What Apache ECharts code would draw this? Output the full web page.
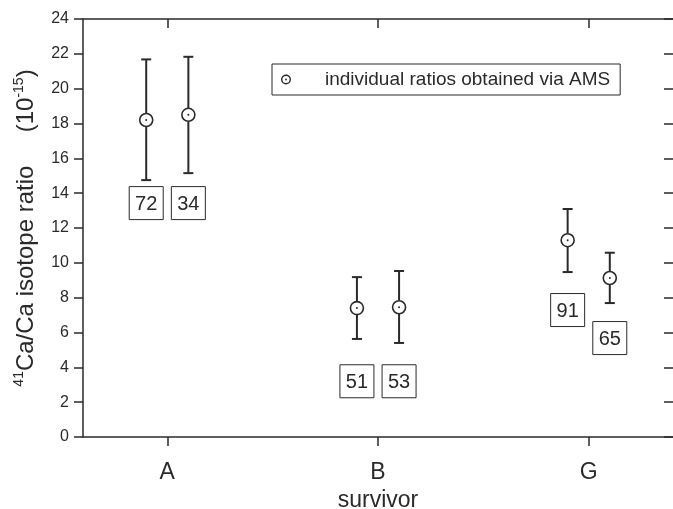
<!DOCTYPE html>
<html>
<head>
<meta charset="utf-8">
<script src="https://cdn.jsdelivr.net/npm/echarts@6/dist/echarts.min.js"></script>
<style>
html,body{margin:0;padding:0;background:#fff;}
#chart{width:673px;height:509px;}
</style>
</head>
<body>
<div id="chart"></div>
<script>
// ---- data ----
const categories = ['A', 'B', 'G'];
const sampleIds = ['72', '34', '51', '53', '91', '65'];
const sampleGroup = [1, 1, 2, 2, 3, 3];
const ratios = [18.2, 18.5, 7.4, 7.45, 11.3, 9.13];
const errLow = [14.75, 15.15, 5.63, 5.40, 9.47, 7.69];
const errHigh = [21.68, 21.83, 9.18, 9.53, 13.09, 10.58];
const labelY = [13.43, 13.43, 3.2, 3.2, 7.29, 5.68];
const yTicks = [0, 2, 4, 6, 8, 10, 12, 14, 16, 18, 20, 22, 24];
const legendName = 'individual ratios obtained via AMS';

const FONT = '"Liberation Sans", Arial, Helvetica, sans-serif';
const INK = '#2a2a2a';
const SIDE = 0.1; // horizontal offset of the two samples within a group

const xPos = sampleGroup.map((g, i) => g + (i % 2 === 0 ? -SIDE : SIDE));
const pointData = xPos.map((x, i) => [x, ratios[i], errLow[i], errHigh[i]]);
const labelData = xPos.map((x, i) => [x, labelY[i], sampleIds[i]]);

const chart = echarts.init(document.getElementById('chart'), null, {renderer: 'canvas'});

const tickVals = categories.map((c, i) => i + 1);

const option = {
  backgroundColor: '#fff',
  animation: false,
  grid: {left: 83, top: 19, width: 590, height: 418, containLabel: false, outerBoundsMode: 'none'},
  legend: {
    show: true,
    left: 272, top: 64,
    orient: 'horizontal',
    backgroundColor: '#fff',
    borderColor: INK, borderWidth: 1,
    padding: [6, 10, 6, 9],
    itemWidth: 10, itemHeight: 10,
    icon: 'path://M0,-6A6,6 0 1,1 0,6A6,6 0 1,1 0,-6Z M0,-4.3A4.3,4.3 0 1,0 0,4.3A4.3,4.3 0 1,0 0,-4.3Z M0,-1.1A1.1,1.1 0 1,1 0,1.1A1.1,1.1 0 1,1 0,-1.1Z',
    textStyle: {fontFamily: FONT, fontSize: 19, color: INK, padding: [0, 0, 0, 29]},
    data: [{name: legendName, itemStyle: {color: INK}}]
  },
  xAxis: [{
    type: 'value', min: 0.6, max: 3.4, position: 'bottom',
    name: 'survivor', nameLocation: 'middle', nameGap: 49,
    nameTextStyle: {fontFamily: FONT, fontSize: 23, color: INK},
    axisLine: {show: true, onZero: false, lineStyle: {color: INK, width: 1.5}},
    axisTick: {show: true, inside: false, length: 9, customValues: tickVals, lineStyle: {color: INK, width: 1.5}},
    axisLabel: {show: true, customValues: tickVals, margin: 24, fontFamily: FONT, fontSize: 23, color: INK,
      formatter: v => categories[Math.round(v) - 1] || ''},
    splitLine: {show: false}
  }, {
    type: 'value', min: 0.6, max: 3.4, position: 'top',
    axisLine: {show: true, onZero: false, lineStyle: {color: INK, width: 1.5}},
    axisTick: {show: true, inside: true, length: 9, customValues: tickVals, lineStyle: {color: INK, width: 1.5}},
    axisLabel: {show: false},
    splitLine: {show: false}
  }],
  yAxis: [{
    type: 'value', min: 0, max: 24, interval: 2, position: 'left',
    name: '{sup|41}{n|Ca/Ca isotope ratio}     {n|(10}{sup|-15}{n|)}',
    nameLocation: 'middle', nameGap: 45, nameRotate: 90,
    nameTextStyle: {
      fontFamily: FONT, fontSize: 24, color: INK,
      rich: {
        n: {fontFamily: FONT, fontSize: 24, color: INK, verticalAlign: 'bottom', lineHeight: 26},
        sup: {fontFamily: FONT, fontSize: 14, color: INK, verticalAlign: 'top', lineHeight: 26}
      }
    },
    axisLine: {show: true, onZero: false, lineStyle: {color: INK, width: 1.5}},
    axisTick: {show: true, inside: false, length: 9, lineStyle: {color: INK, width: 1.5}},
    axisLabel: {show: true, margin: 14, fontFamily: FONT, fontSize: 16, color: INK,
      customValues: yTicks},
    splitLine: {show: false}
  }, {
    type: 'value', min: 0, max: 24, interval: 2, position: 'right',
    axisLine: {show: false},
    axisTick: {show: true, inside: true, length: 9, lineStyle: {color: INK, width: 1.5}},
    axisLabel: {show: false},
    splitLine: {show: false}
  }],
  series: [{
    name: legendName,
    type: 'custom',
    xAxisIndex: 0, yAxisIndex: 0,
    itemStyle: {color: INK},
    data: pointData,
    renderItem: function (params, api) {
      const x = api.value(0), y = api.value(1), lo = api.value(2), hi = api.value(3);
      const pC = api.coord([x, y]);
      const pL = api.coord([x, lo]);
      const pH = api.coord([x, hi]);
      const cap = 5, r = 6.5;
      const st = {stroke: INK, lineWidth: 2};
      return {
        type: 'group',
        children: [
          {type: 'line', shape: {x1: pL[0], y1: pL[1], x2: pL[0], y2: pC[1] + r}, style: st},
          {type: 'line', shape: {x1: pH[0], y1: pC[1] - r, x2: pH[0], y2: pH[1]}, style: st},
          {type: 'line', shape: {x1: pL[0] - cap, y1: pL[1], x2: pL[0] + cap, y2: pL[1]}, style: st},
          {type: 'line', shape: {x1: pH[0] - cap, y1: pH[1], x2: pH[0] + cap, y2: pH[1]}, style: st},
          {type: 'circle', shape: {cx: pC[0], cy: pC[1], r: r}, style: {fill: '#fff', stroke: INK, lineWidth: 1.6}},
          {type: 'circle', shape: {cx: pC[0], cy: pC[1], r: 1}, style: {fill: INK}}
        ]
      };
    }
  }, {
    name: 'ids',
    type: 'custom',
    xAxisIndex: 0, yAxisIndex: 0,
    data: labelData,
    renderItem: function (params, api) {
      const p = api.coord([api.value(0), api.value(1)]);
      const w = 34, h = 33;
      return {
        type: 'group',
        children: [
          {type: 'rect', shape: {x: p[0] - w / 2, y: p[1] - h / 2, width: w, height: h},
            style: {fill: '#fff', stroke: INK, lineWidth: 1}},
          {type: 'text', x: p[0], y: p[1] + 1,
            style: {text: labelData[params.dataIndex][2], fontFamily: FONT, fontSize: 20, fill: INK,
              align: 'center', verticalAlign: 'middle'}}
        ]
      };
    }
  }]
};
chart.setOption(option);
</script>
</body>
</html>
